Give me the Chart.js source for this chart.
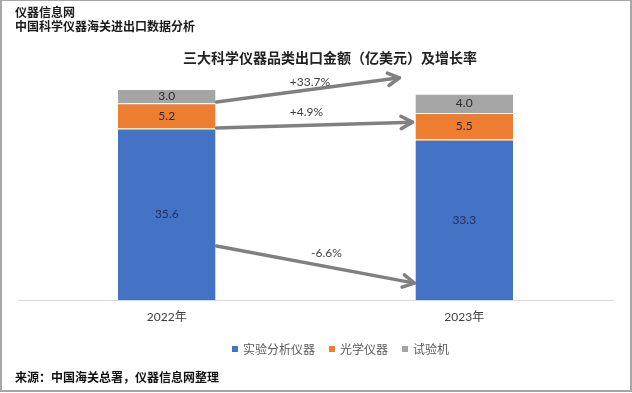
<!DOCTYPE html>
<html>
<head>
<meta charset="utf-8">
<script src="https://cdn.jsdelivr.net/npm/chart.js@4.4.1/dist/chart.umd.min.js"></script>
<style>
  body { margin: 0; background: #fff; }
  #wrap { position: relative; width: 632px; height: 393px; overflow: hidden; font-family: "Noto Sans CJK SC", sans-serif; }
  #frame { position: absolute; left: 0; top: 0; width: 632px; height: 392px; box-sizing: border-box; border: 2px solid #a6a6a6; border-top-width: 1px; pointer-events: none; }
  canvas { position: absolute; left: 0; top: 0; }
  .txt { position: absolute; white-space: nowrap; line-height: 1; }
  #legend { position: absolute; left: 232px; top: 343px; display: flex; align-items: center; font-size: 12px; line-height: 12px; color: #595959; }
  #legend .box { width: 6px; height: 6px; margin-right: 5px; }
  #legend .lbl { margin-right: 14px; }
</style>
</head>
<body>
<div id="wrap">
  <canvas id="chart" width="632" height="393"></canvas>
  <div class="txt" style="left:15px;top:6px;font-size:12px;font-weight:bold;color:#1a1a1a">仪器信息网</div>
  <div class="txt" style="left:15px;top:20px;font-size:12px;font-weight:bold;color:#1a1a1a">中国科学仪器海关进出口数据分析</div>
  <div class="txt" style="left:183px;top:50px;font-size:14px;font-weight:bold;color:#222">三大科学仪器品类出口金额（亿美元）及增长率</div>
  <div id="legend"></div>
  <div class="txt" style="left:15px;top:371px;font-size:12px;font-weight:bold;color:#111">来源：中国海关总署，仪器信息网整理</div>
  <div id="frame"></div>
</div>
<script>
const years = ["2022年", "2023年"];
const seriesNames = ["实验分析仪器", "光学仪器", "试验机"];
const analytical = [35.6, 33.3];
const optical = [5.2, 5.5];
const testing = [3.0, 4.0];
const growthLabels = ["+33.7%", "+4.9%", "-6.6%"];

const colors = ["#4472C4", "#ED7D31", "#A5A5A5"];
const labelColors = ["#1f2f5c", "#2a2a2a", "#2a2a2a"];
const numFont = "Lato, 'Liberation Sans', sans-serif";

// value labels in the middle of each segment
const segmentLabels = {
  id: 'segmentLabels',
  afterDatasetsDraw(chart) {
    const ctx = chart.ctx;
    ctx.save();
    ctx.font = "12px " + numFont;
    ctx.textAlign = 'center';
    ctx.textBaseline = 'middle';
    chart.data.datasets.forEach((ds, i) => {
      ctx.fillStyle = labelColors[i];
      chart.getDatasetMeta(i).data.forEach((bar, j) => {
        ctx.fillText(ds.data[j].toFixed(1), bar.x, (bar.y + bar.base) / 2);
      });
    });
    ctx.restore();
  }
};

// growth arrows from the 2022 bar to the 2023 bar
const growthArrows = {
  id: 'growthArrows',
  afterDatasetsDraw(chart, args, opts) {
    const ctx = chart.ctx;
    const y = chart.scales.y;
    const bars = chart.getDatasetMeta(0).data;
    const xStart = bars[0].x + bars[0].width / 2 + 1;
    const xEdge = bars[1].x - bars[1].width / 2;
    ctx.save();
    ctx.strokeStyle = opts.color;
    ctx.lineWidth = opts.width;
    ctx.lineCap = 'round';
    ctx.lineJoin = 'round';
    opts.arrows.forEach((a, i) => {
      const x0 = xStart, y0 = y.getPixelForValue(a.from);
      const x1 = xEdge - a.gap, y1 = y.getPixelForValue(a.to);
      const ang = Math.atan2(y1 - y0, x1 - x0);
      ctx.beginPath();
      ctx.moveTo(x0, y0);
      ctx.lineTo(x1, y1);
      ctx.stroke();
      ctx.beginPath();
      ctx.moveTo(x1 - opts.head * Math.cos(ang - 0.5), y1 - opts.head * Math.sin(ang - 0.5));
      ctx.lineTo(x1, y1);
      ctx.lineTo(x1 - opts.head * Math.cos(ang + 0.5), y1 - opts.head * Math.sin(ang + 0.5));
      ctx.stroke();
      ctx.fillStyle = '#404040';
      ctx.font = "12px " + numFont;
      ctx.textAlign = 'center';
      ctx.textBaseline = 'middle';
      ctx.fillText(growthLabels[i], (x0 + x1) / 2 + a.dx, (y0 + y1) / 2 + a.dy);
    });
    ctx.restore();
  }
};

const datasets = [analytical, optical, testing].map((d, i) => ({
  label: seriesNames[i],
  data: d,
  backgroundColor: colors[i],
  borderColor: '#ffffff',
  borderWidth: { top: 1, left: 0, right: 0, bottom: 0 },
  borderSkipped: false,
  barPercentage: 1,
  categoryPercentage: 0.328
}));

new Chart(document.getElementById('chart'), {
  type: 'bar',
  data: { labels: years, datasets },
  plugins: [segmentLabels, growthArrows],
  options: {
    responsive: false,
    animation: false,
    devicePixelRatio: 1,
    layout: { padding: { left: 18, right: 19, top: 59, bottom: 53 } },
    scales: {
      x: {
        stacked: true,
        grid: { display: false, drawTicks: false },
        border: { display: true, color: '#d9d9d9', width: 1 },
        ticks: { padding: 10, color: '#404040', font: { size: 12, family: "Lato, 'Noto Sans CJK SC', sans-serif" } },
        afterFit: s => { s.height = 40; }
      },
      y: { stacked: true, display: false, min: 0, max: 50 }
    },
    plugins: {
      legend: { display: false },
      tooltip: { enabled: false },
      growthArrows: {
        color: '#808080',
        width: 3.5,
        head: 13,
        arrows: [
          { from: 41.1, to: 46.1, gap: 16, dx: 2, dy: -8 },
          { from: 35.7, to: 36.9, gap: 3, dx: -8, dy: -13 },
          { from: 11.2, to: 3.5, gap: 1, dx: 11, dy: -11 }
        ]
      }
    }
  }
});

// legend
const legend = document.getElementById('legend');
seriesNames.forEach((name, i) => {
  const box = document.createElement('span');
  box.className = 'box';
  box.style.background = colors[i];
  const lbl = document.createElement('span');
  lbl.className = 'lbl';
  lbl.textContent = name;
  legend.appendChild(box);
  legend.appendChild(lbl);
});
</script>
</body>
</html>
